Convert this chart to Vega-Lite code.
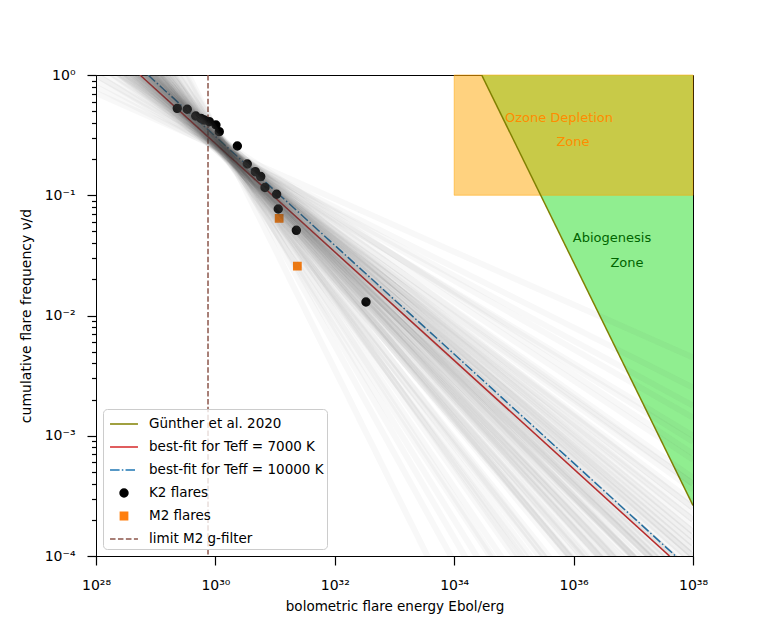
{
  "$schema": "https://vega.github.io/schema/vega-lite/v6.json",
  "width": 597,
  "height": 481,
  "autosize": {"type": "none"},
  "padding": {"left": 96, "top": 75, "right": 77, "bottom": 69},
  "background": "white",
  "config": {
    "view": {"stroke": "black", "strokeWidth": 1},
    "font": "DejaVu Sans",
    "axis": {
      "domainColor": "black", "tickColor": "black", "labelColor": "black", "titleColor": "black",
      "labelFont": "DejaVu Sans", "titleFont": "DejaVu Sans", "labelFontSize": 14, "titleFontSize": 13.5,
      "titleFontWeight": "normal", "grid": false, "labelFlush": false, "labelOverlap": false, "labelBound": false,
      "tickWidth": 1.2, "domainWidth": 1
    },
    "legend": {
      "orient": "bottom-left", "offset": 7, "padding": 3, "symbolOffset": 6, "rowPadding": 4,
      "labelOffset": 13, "labelFont": "DejaVu Sans", "labelFontSize": 13.5, "labelColor": "black",
      "labelLimit": 400, "fillColor": "rgba(255,255,255,0.8)", "strokeColor": "#cccccc", "cornerRadius": 4,
      "symbolStrokeWidth": 1.5, "symbolSize": 484, "symbolOpacity": 1
    }
  },
  "layer": [
    {
      "data": {"values": [{"E": 2.884e34, "nu": 1, "nu2": 1}, {"E": 1e38, "nu": 2.63e-4, "nu2": 1}]},
      "mark": {"type": "area", "color": "#90ee90", "opacity": 1, "clip": true},
      "encoding": {
        "x": {"field": "E", "type": "quantitative", "scale": {"type": "log", "domain": [1e28, 1e38], "nice": false},
          "axis": {"values": [1e28, 1e30, 1e32, 1e34, 1e36, 1e38],
            "labelExpr": "datum.value < 1e29 ? '10²⁸' : datum.value < 1e31 ? '10³⁰' : datum.value < 1e33 ? '10³²' : datum.value < 1e35 ? '10³⁴' : datum.value < 1e37 ? '10³⁶' : '10³⁸'",
            "title": "bolometric flare energy Ebol/erg", "tickSize": 9, "labelPadding": 13, "titlePadding": 7}},
        "y": {"field": "nu", "type": "quantitative", "scale": {"type": "log", "domain": [1e-4, 1], "nice": false},
          "axis": {"values": [0.0001, 0.0002, 0.0003, 0.0004, 0.0005, 0.0006, 0.0007, 0.0008, 0.0009, 0.001, 0.002, 0.003, 0.004, 0.005, 0.006, 0.007, 0.008, 0.009, 0.01, 0.02, 0.03, 0.04, 0.05, 0.06, 0.07, 0.08, 0.09, 0.1, 0.2, 0.3, 0.4, 0.5, 0.6, 0.7, 0.8, 0.9, 1],
            "labelExpr": "datum.value > 0.95 ? '10⁰' : datum.value == 0.1 ? '10⁻¹' : datum.value == 0.01 ? '10⁻²' : datum.value == 0.001 ? '10⁻³' : datum.value == 0.0001 ? '10⁻⁴' : ''",
            "tickSize": {"condition": {"test": "indexof([1, 0.1, 0.01, 0.001, 0.0001], datum.value) >= 0", "value": 9}, "value": 4.5},
            "title": "cumulative flare frequency ν/d", "titleFontSize": 14, "labelPadding": 12, "titlePadding": 11}},
        "y2": {"field": "nu2"}
      }
    },
    {
      "data": {"values": [{"E": 1e34, "E2": 1e38, "nu": 0.1, "nu2": 1}]},
      "mark": {"type": "rect", "fill": "#ffa500", "fillOpacity": 0.5, "stroke": "#ffa500", "strokeOpacity": 0.5, "strokeWidth": 1},
      "encoding": {
        "x": {"field": "E", "type": "quantitative", "scale": {"type": "log", "domain": [1e28, 1e38], "nice": false}},
        "x2": {"field": "E2"},
        "y": {"field": "nu", "type": "quantitative", "scale": {"type": "log", "domain": [1e-4, 1], "nice": false}},
        "y2": {"field": "nu2"}
      }
    },
    {
      "data": {"values": [
        {"E": 5.69e35, "nu": 0.4387, "label": "Ozone Depletion", "zone": "ozone"},
        {"E": 9.77e35, "nu": 0.2773, "label": "Zone", "zone": "ozone"},
        {"E": 4.40e36, "nu": 0.0441, "label": "Abiogenesis", "zone": "abio"},
        {"E": 7.83e36, "nu": 0.02733, "label": "Zone", "zone": "abio"}
      ]},
      "mark": {"type": "text", "font": "DejaVu Sans", "fontSize": 13, "align": "center", "baseline": "middle"},
      "encoding": {
        "x": {"field": "E", "type": "quantitative", "scale": {"type": "log", "domain": [1e28, 1e38], "nice": false}},
        "y": {"field": "nu", "type": "quantitative", "scale": {"type": "log", "domain": [1e-4, 1], "nice": false}},
        "text": {"field": "label"},
        "color": {"field": "zone", "type": "nominal", "scale": {"domain": ["ozone", "abio"], "range": ["#ff8c00", "#006400"]}, "legend": null}
      }
    },
    {
      "data": {"values": [{"E": 2.884e34, "nu": 1, "E2": 1e38, "nu2": 2.63e-4}]},
      "mark": {"type": "rule", "color": "#808000", "strokeWidth": 1.5, "clip": true},
      "encoding": {
        "x": {"field": "E", "type": "quantitative", "scale": {"type": "log", "domain": [1e28, 1e38], "nice": false}},
        "x2": {"field": "E2"},
        "y": {"field": "nu", "type": "quantitative", "scale": {"type": "log", "domain": [1e-4, 1], "nice": false}},
        "y2": {"field": "nu2"}
      }
    },
    {
      "data": {"values": [{"E": 5.458e28, "nu": 1, "E2": 4.036e37, "nu2": 0.0001}]},
      "mark": {"type": "rule", "color": "#d62728", "strokeWidth": 1.5, "clip": true},
      "encoding": {
        "x": {"field": "E", "type": "quantitative", "scale": {"type": "log", "domain": [1e28, 1e38], "nice": false}},
        "x2": {"field": "E2"},
        "y": {"field": "nu", "type": "quantitative", "scale": {"type": "log", "domain": [1e-4, 1], "nice": false}},
        "y2": {"field": "nu2"}
      }
    },
    {
      "data": {"values": [{"E": 7.43e28, "nu": 1, "E2": 5.105e37, "nu2": 0.0001}]},
      "mark": {"type": "rule", "color": "#1f77b4", "strokeWidth": 1.5, "strokeDash": [9.6, 2.4, 1.5, 2.4], "clip": true},
      "encoding": {
        "x": {"field": "E", "type": "quantitative", "scale": {"type": "log", "domain": [1e28, 1e38], "nice": false}},
        "x2": {"field": "E2"},
        "y": {"field": "nu", "type": "quantitative", "scale": {"type": "log", "domain": [1e-4, 1], "nice": false}},
        "y2": {"field": "nu2"}
      }
    },
    {
      "data": {"values": [{"E": 7.52e29}]},
      "mark": {"type": "rule", "color": "#8c564b", "strokeWidth": 1.5, "strokeDash": [5.5, 2.4]},
      "encoding": {
        "x": {"field": "E", "type": "quantitative", "scale": {"type": "log", "domain": [1e28, 1e38], "nice": false}}
      }
    },
    {
      "data": {"values": [
        {"E": 2.30e29, "nu": 0.528, "series": "K2 flares"},
        {"E": 3.38e29, "nu": 0.519, "series": "K2 flares"},
        {"E": 4.68e29, "nu": 0.456, "series": "K2 flares"},
        {"E": 5.74e29, "nu": 0.436, "series": "K2 flares"},
        {"E": 6.52e29, "nu": 0.422, "series": "K2 flares"},
        {"E": 7.91e29, "nu": 0.409, "series": "K2 flares"},
        {"E": 1.02e30, "nu": 0.384, "series": "K2 flares"},
        {"E": 1.16e30, "nu": 0.338, "series": "K2 flares"},
        {"E": 2.33e30, "nu": 0.257, "series": "K2 flares"},
        {"E": 3.42e30, "nu": 0.182, "series": "K2 flares"},
        {"E": 4.66e30, "nu": 0.157, "series": "K2 flares"},
        {"E": 5.74e30, "nu": 0.143, "series": "K2 flares"},
        {"E": 6.77e30, "nu": 0.116, "series": "K2 flares"},
        {"E": 1.06e31, "nu": 0.102, "series": "K2 flares"},
        {"E": 1.13e31, "nu": 0.0769, "series": "K2 flares"},
        {"E": 2.27e31, "nu": 0.0511, "series": "K2 flares"},
        {"E": 3.33e32, "nu": 0.01295, "series": "K2 flares"},
        {"E": 1.17e31, "nu": 0.0643, "series": "M2 flares"},
        {"E": 2.36e31, "nu": 0.0257, "series": "M2 flares"}
      ]},
      "mark": {"type": "point", "filled": true, "opacity": 1, "size": 484, "strokeWidth": 1.5},
      "encoding": {
        "x": {"field": "E", "type": "quantitative", "scale": {"type": "log", "domain": [1e28, 1e38], "nice": false}},
        "y": {"field": "nu", "type": "quantitative", "scale": {"type": "log", "domain": [1e-4, 1], "nice": false}},
        "shape": {"field": "series", "type": "nominal", "title": null,
          "scale": {"domain": ["Günther et al. 2020", "best-fit for Teff = 7000 K", "best-fit for Teff = 10000 K", "K2 flares", "M2 flares", "limit M2 g-filter"],
            "range": ["M-1.27,0H1.27", "M-1.27,0H1.27", "M-1.27,0H-0.4M-0.2,0H-0.06M0.14,0H1.0", "M-0.36,0A0.36,0.36,0,1,0,0.36,0A0.36,0.36,0,1,0,-0.36,0Z", "M-0.33,-0.33H0.33V0.33H-0.33Z", "M-1.27,0H-0.77M-0.55,0H-0.05M0.17,0H0.68M0.9,0H1.27"]}},
        "fill": {"field": "series", "type": "nominal", "title": null,
          "scale": {"domain": ["Günther et al. 2020", "best-fit for Teff = 7000 K", "best-fit for Teff = 10000 K", "K2 flares", "M2 flares", "limit M2 g-filter"],
            "range": ["#808000", "#d62728", "#1f77b4", "#000000", "#ff7f0e", "#8c564b"]}},
        "stroke": {"field": "series", "type": "nominal", "title": null,
          "scale": {"domain": ["Günther et al. 2020", "best-fit for Teff = 7000 K", "best-fit for Teff = 10000 K", "K2 flares", "M2 flares", "limit M2 g-filter"],
            "range": ["#808000", "#d62728", "#1f77b4", "#000000", "#ff7f0e", "#8c564b"]}}
      }
    },
    {
      "data": {"values": [
        {"a": 1, "b": 1e-3}, {"a": 1.122, "b": 8.913e-4}, {"a": 1.259, "b": 6.31e-4}, {"a": 1.413, "b": 4.467e-4},
        {"a": 1.413, "b": 3.548e-4}, {"a": 1.413, "b": 2.818e-4}, {"a": 1.585, "b": 2.512e-4}, {"a": 1.585, "b": 1.995e-4},
        {"a": 1.778, "b": 1.778e-4}, {"a": 1.778, "b": 1.413e-4}, {"a": 1.995, "b": 1.259e-4}, {"a": 1.995, "b": 1e-4},
        {"a": 2.239, "b": 8.913e-5}, {"a": 2.239, "b": 7.079e-5}, {"a": 2.239, "b": 5.623e-5}, {"a": 2.512, "b": 5.012e-5},
        {"a": 2.512, "b": 3.981e-5}, {"a": 2.818, "b": 3.548e-5}, {"a": 2.818, "b": 2.818e-5}, {"a": 3.162, "b": 1.995e-5},
        {"a": 3.548, "b": 1.413e-5}, {"a": 3.981, "b": 1e-5}, {"a": 4.467, "b": 7.079e-6}, {"a": 5.012, "b": 5.012e-6},
        {"a": 5.012, "b": 3.162e-6}, {"a": 5.623, "b": 2.239e-6}, {"a": 6.31, "b": 1.585e-6}, {"a": 7.079, "b": 1.122e-6},
        {"a": 7.943, "b": 7.943e-7}, {"a": 8.913, "b": 4.467e-7}, {"a": 11.22, "b": 2.818e-7}, {"a": 12.59, "b": 1.259e-7},
        {"a": 17.78, "b": 5.623e-8}, {"a": 22.39, "b": 2.239e-8}, {"a": 1.413, "b": 7.079e-4}, {"a": 1.585, "b": 3.981e-4},
        {"a": 1.995, "b": 1.995e-4}, {"a": 2.239, "b": 1.413e-4}, {"a": 2.512, "b": 1e-4}, {"a": 2.512, "b": 7.943e-5},
        {"a": 2.512, "b": 6.31e-5}, {"a": 2.818, "b": 5.623e-5}, {"a": 2.818, "b": 4.467e-5}, {"a": 3.162, "b": 3.162e-5},
        {"a": 3.548, "b": 2.239e-5}, {"a": 3.981, "b": 1.585e-5}, {"a": 4.467, "b": 1.122e-5}, {"a": 5.623, "b": 5.623e-6},
        {"a": 6.31, "b": 2.512e-6}, {"a": 8.913, "b": 8.913e-7}, {"a": 1.259, "b": 3.981e-4}, {"a": 1.413, "b": 2.239e-4},
        {"a": 1.585, "b": 1.259e-4}, {"a": 1.778, "b": 8.913e-5}, {"a": 1.995, "b": 6.31e-5}, {"a": 1.995, "b": 5.012e-5},
        {"a": 2.239, "b": 4.467e-5}, {"a": 2.512, "b": 3.162e-5}, {"a": 2.512, "b": 2.512e-5}, {"a": 2.818, "b": 1.778e-5},
        {"a": 3.162, "b": 1e-5}, {"a": 3.981, "b": 6.31e-6}, {"a": 4.467, "b": 2.818e-6}, {"a": 5.623, "b": 1.413e-6},
        {"a": 8.913, "b": 2.818e-7},
        {"a": 1.778, "b": 1.585e-4}, {"a": 1.995, "b": 1.122e-4}, {"a": 2.239, "b": 7.079e-5}, {"a": 2.512, "b": 4.467e-5},
        {"a": 2.818, "b": 3.162e-5}, {"a": 3.162, "b": 1.995e-5}, {"a": 3.548, "b": 1.413e-5}, {"a": 3.981, "b": 8.913e-6},
        {"a": 4.467, "b": 6.31e-6}, {"a": 1.778, "b": 2.512e-4}, {"a": 1.995, "b": 1.585e-4}, {"a": 2.239, "b": 1.122e-4},
        {"a": 2.512, "b": 7.079e-5}, {"a": 2.818, "b": 5.012e-5}, {"a": 3.162, "b": 3.162e-5}, {"a": 3.548, "b": 1.995e-5},
        {"a": 3.981, "b": 1.413e-5}, {"a": 1.778, "b": 1e-4}, {"a": 1.995, "b": 7.079e-5}, {"a": 2.239, "b": 4.467e-5},
        {"a": 2.512, "b": 3.162e-5}, {"a": 2.818, "b": 1.995e-5}, {"a": 3.162, "b": 1.413e-5}, {"a": 3.548, "b": 8.913e-6},
        {"a": 3.981, "b": 6.31e-6},
        {"a": 0.7943, "b": 2.512e-3}, {"a": 0.7079, "b": 4.467e-3}, {"a": 0.8913, "b": 1.778e-3}, {"a": 1, "b": 1.413e-3},
        {"a": 35.48, "b": 3.548e-9}
      ]},
      "mark": {"type": "rule", "color": "#404040", "opacity": 0.04, "strokeWidth": 6, "clip": true},
      "encoding": {
        "x": {"datum": 1e28, "type": "quantitative", "scale": {"type": "log", "domain": [1e28, 1e38], "nice": false}},
        "x2": {"datum": 1e38},
        "y": {"field": "a", "type": "quantitative", "scale": {"type": "log", "domain": [1e-4, 1], "nice": false}},
        "y2": {"field": "b"}
      }
    }
  ]
}
